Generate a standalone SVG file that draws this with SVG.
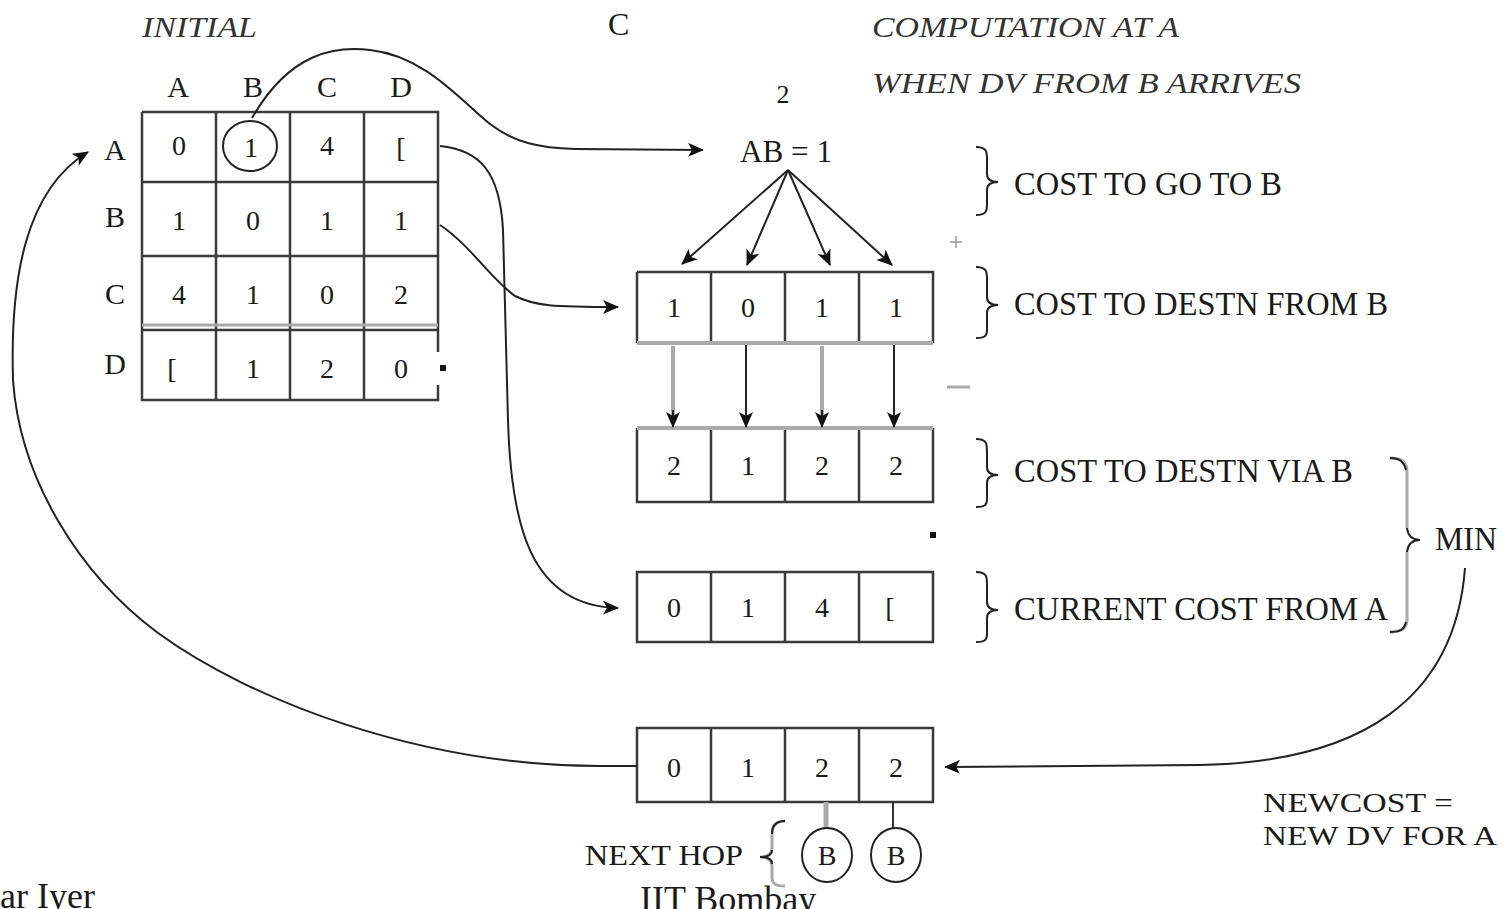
<svg xmlns="http://www.w3.org/2000/svg" width="1503" height="909" viewBox="0 0 1503 909">
<style>
.t{font-family:"Liberation Serif","Times New Roman",serif;fill:#1a1a1a}
.n{font-size:28px;text-anchor:middle}
.lb{font-size:30px;text-anchor:middle}
.cp{font-size:34px}
.it{font-style:italic;font-size:30px;fill:#333}
.g{fill:none;stroke:#3a3a3a;stroke-width:2.5}
.c{fill:none;stroke:#222;stroke-width:2}
</style>
<defs>
<marker id="ah" viewBox="0 0 16 14" refX="15" refY="7" markerWidth="16" markerHeight="14" markerUnits="userSpaceOnUse" orient="auto">
<path d="M0,0 L16,7 L0,14 L4,7 Z" fill="#111"/>
</marker>
</defs>

<g id="titles">
<text class="t it" x="142" y="37" textLength="115" lengthAdjust="spacingAndGlyphs">INITIAL</text>
<text class="t" x="608" y="35" font-size="32">C</text>
<text class="t it" x="872" y="37" textLength="307" lengthAdjust="spacingAndGlyphs">COMPUTATION AT A</text>
<text class="t it" x="872" y="93" textLength="429" lengthAdjust="spacingAndGlyphs">WHEN DV FROM B ARRIVES</text>
<text class="t" x="783" y="103" font-size="26" text-anchor="middle">2</text>
</g>

<g id="matrix">
<text class="t lb" x="178" y="97">A</text>
<text class="t lb" x="253" y="97">B</text>
<text class="t lb" x="327" y="97">C</text>
<text class="t lb" x="401" y="97">D</text>
<text class="t lb" x="115" y="160">A</text>
<text class="t lb" x="115" y="227">B</text>
<text class="t lb" x="115" y="304">C</text>
<text class="t lb" x="115" y="374">D</text>
<path class="g" d="M142,112 H438 V352 M438,385 V400 H142 V112 M142,182 H438 M142,256 H438 M142,330 H438 M216,112 V400 M290,112 V400 M364,112 V400"/>
<line x1="142" y1="325" x2="438" y2="325" stroke="#aaa" stroke-width="3"/>
<rect x="440" y="365" width="6" height="6" fill="#111"/>
<text class="t n" x="179" y="155">0</text>
<text class="t n" x="251" y="157">1</text>
<text class="t n" x="327" y="155">4</text>
<text class="t n" x="401" y="157">[</text>
<text class="t n" x="179" y="230">1</text>
<text class="t n" x="253" y="230">0</text>
<text class="t n" x="327" y="230">1</text>
<text class="t n" x="401" y="230">1</text>
<text class="t n" x="179" y="304">4</text>
<text class="t n" x="253" y="304">1</text>
<text class="t n" x="327" y="304">0</text>
<text class="t n" x="401" y="304">2</text>
<text class="t n" x="172" y="378">[</text>
<text class="t n" x="253" y="378">1</text>
<text class="t n" x="327" y="378">2</text>
<text class="t n" x="401" y="378">0</text>
<ellipse cx="250" cy="146" rx="27" ry="25" fill="none" stroke="#222" stroke-width="2"/>
</g>

<g id="ab">
<text class="t" x="740" y="162" font-size="32" textLength="92" lengthAdjust="spacingAndGlyphs">AB = 1</text>
</g>

<g id="vec-b">
<path class="g" d="M637,272 H933 V343 M637,343 V272 M711,272 V343 M785,272 V343 M859,272 V343"/>
<line x1="637" y1="343" x2="933" y2="343" stroke="#aaa" stroke-width="4"/>
<text class="t n" x="674" y="317">1</text>
<text class="t n" x="748" y="317">0</text>
<text class="t n" x="822" y="317">1</text>
<text class="t n" x="896" y="317">1</text>
</g>

<g id="vec-via">
<path class="g" d="M637,428 V502 H933 V428 M711,428 V502 M785,428 V502 M859,428 V502"/>
<line x1="637" y1="428" x2="933" y2="428" stroke="#aaa" stroke-width="4"/>
<text class="t n" x="674" y="475">2</text>
<text class="t n" x="748" y="475">1</text>
<text class="t n" x="822" y="475">2</text>
<text class="t n" x="896" y="475">2</text>
</g>

<g id="vec-cur">
<path class="g" d="M637,572 H933 V642 H637 Z M711,572 V642 M785,572 V642 M859,572 V642"/>
<text class="t n" x="674" y="617">0</text>
<text class="t n" x="748" y="617">1</text>
<text class="t n" x="822" y="617">4</text>
<text class="t n" x="890" y="617">[</text>
</g>

<g id="vec-new">
<path class="g" d="M637,728 H933 V802 H637 Z M711,728 V802 M785,728 V802 M859,728 V802"/>
<text class="t n" x="674" y="777">0</text>
<text class="t n" x="748" y="777">1</text>
<text class="t n" x="822" y="777">2</text>
<text class="t n" x="896" y="777">2</text>
</g>

<g id="annotations">
<path class="c" d="M976,147 C987,147 987,152 987,160 V174 C987,180 991,182 998,182 C991,182 987,184 987,190 V205 C987,212 985,215 976,215"/>
<text class="t cp" x="1014" y="195" textLength="268" lengthAdjust="spacingAndGlyphs">COST TO GO TO B</text>
<path d="M950,242 H962 M956,236 V248" stroke="#999" stroke-width="1.5"/>
<path class="c" d="M976,267 C987,267 987,272 987,280 V297 C987,303 991,305 998,305 C991,305 987,307 987,313 V330 C987,336 985,338 976,338"/>
<text class="t cp" x="1014" y="315" textLength="374" lengthAdjust="spacingAndGlyphs">COST TO DESTN FROM B</text>
<line x1="947" y1="387" x2="970" y2="387" stroke="#aaa" stroke-width="3"/>
<path class="c" d="M976,439 C987,439 987,444 987,452 V467 C987,473 991,475 998,475 C991,475 987,477 987,483 V499 C987,505 985,507 976,507"/>
<text class="t cp" x="1014" y="482" textLength="339" lengthAdjust="spacingAndGlyphs">COST TO DESTN VIA B</text>
<rect x="930" y="532" width="6" height="6" fill="#111"/>
<path class="c" d="M976,572 C987,572 987,577 987,585 V602 C987,608 991,610 998,610 C991,610 987,612 987,618 V634 C987,640 985,642 976,642"/>
<text class="t cp" x="1014" y="620" textLength="374" lengthAdjust="spacingAndGlyphs">CURRENT COST FROM A</text>
<path d="M1390,458 C1402,458 1407,462 1407,472 V528 M1407,552 V620 C1407,628 1402,632 1390,632" fill="none" stroke="#aaa" stroke-width="3"/>
<path class="c" d="M1390,458 C1400,458 1404,462 1406,470 M1407,528 C1408,536 1412,540 1420,540 C1412,540 1408,544 1407,552 M1406,622 C1404,630 1400,632 1390,632"/>
<text class="t cp" x="1435" y="550" textLength="62" lengthAdjust="spacingAndGlyphs">MIN</text>
<text class="t" x="1263" y="812" font-size="28" textLength="190" lengthAdjust="spacingAndGlyphs">NEWCOST =</text>
<text class="t" x="1263" y="845" font-size="28" textLength="234" lengthAdjust="spacingAndGlyphs">NEW DV FOR A</text>
</g>

<g id="nexthop">
<text class="t" x="585" y="865" font-size="30" textLength="158" lengthAdjust="spacingAndGlyphs">NEXT HOP</text>
<path d="M785,821 C776,821 772,826 772,834 V848 C772,854 768,857 760,857 C768,857 772,860 772,866 V878 C772,884 776,886 785,886" fill="none" stroke="#aaa" stroke-width="3"/>
<path class="c" d="M785,821 C776,821 772,826 772,834 M772,850 C772,854 768,857 760,857 C768,857 772,860 772,864"/>
<line x1="826" y1="802" x2="826" y2="828" stroke="#aaa" stroke-width="5"/>
<line x1="893" y1="802" x2="893" y2="828" stroke="#333" stroke-width="2"/>
<ellipse cx="827" cy="855" rx="25" ry="27" fill="none" stroke="#222" stroke-width="2"/>
<ellipse cx="896" cy="855" rx="25" ry="27" fill="none" stroke="#222" stroke-width="2"/>
<text class="t n" x="827" y="865" font-size="26">B</text>
<text class="t n" x="896" y="865" font-size="26">B</text>
</g>

<g id="footer">
<text class="t" x="0" y="908" font-size="36">ar Iyer</text>
<text class="t" x="640" y="911" font-size="36">IIT Bombay</text>
</g>

<g id="connectors">
<path class="c" d="M252,118 C290,52 335,46 370,50 C425,56 460,100 490,124 C515,143 540,148 575,149 L703,150" marker-end="url(#ah)"/>
<path class="c" d="M440,146 C480,150 500,172 503,230 L508,420 C511,525 530,606 618,608" marker-end="url(#ah)"/>
<path class="c" d="M440,225 C470,245 492,280 515,296 C535,306 552,307 618,307" marker-end="url(#ah)"/>
<path class="c" d="M788,170 L682,264" marker-end="url(#ah)"/>
<path class="c" d="M788,170 L747,265" marker-end="url(#ah)"/>
<path class="c" d="M788,170 L830,265" marker-end="url(#ah)"/>
<path class="c" d="M788,170 L892,265" marker-end="url(#ah)"/>
<line x1="673" y1="346" x2="673" y2="420" stroke="#aaa" stroke-width="4"/>
<path class="c" d="M673,410 L673,427" marker-end="url(#ah)"/>
<path class="c" d="M746,345 L746,427" marker-end="url(#ah)"/>
<line x1="822" y1="346" x2="822" y2="420" stroke="#aaa" stroke-width="4"/>
<path class="c" d="M822,410 L822,427" marker-end="url(#ah)"/>
<path class="c" d="M894,345 L894,427" marker-end="url(#ah)"/>
<path class="c" d="M1465,568 C1455,700 1360,762 1200,765 L945,767" marker-end="url(#ah)"/>
<path class="c" d="M637,766 L600,766 C420,766 250,700 158,633 C80,575 20,480 13,380 C10,280 25,190 88,152" marker-end="url(#ah)"/>
</g>
</svg>
